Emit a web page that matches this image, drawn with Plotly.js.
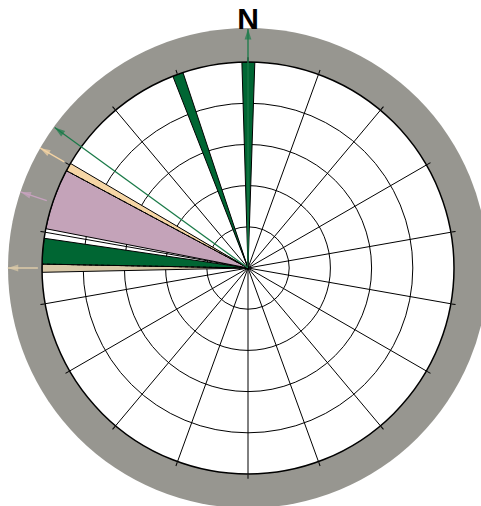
<!DOCTYPE html>
<html>
<head>
<meta charset="utf-8">
<script src="https://cdn.plot.ly/plotly-3.0.1.min.js"></script>
<style>html,body{margin:0;padding:0;background:#fff;}#chart{width:481px;height:506px;}</style>
</head>
<body>
<div id="chart"></div>
<script>
// Rose-diagram sectors (compass degrees, clockwise from N)
const greenTheta = [0.1, 340.1, 274.7];
const greenWidth = [3.6, 3.0, 7.2];
const greenR = [5, 5, 5];

const pinkTheta = [289.6];
const pinkWidth = [17.2];
const pinkR = [5];

const peachTheta = [299.35];
const peachWidth = [2.3];
const peachR = [5];

const tanTheta = [269.95];
const tanWidth = [2.3];
const tanR = [5];

// Mean-direction arrows
const arrowTheta = [0, 306, 300, 288.5, 270];
const arrowStart = [0, 0, 5.15, 5.15, 5.1];
const arrowEnd = [5.8, 5.8, 5.83, 5.82, 5.83];
const arrowColor = ['#1a7a48', '#1a7a48', '#f3d3a3', '#c7a2bf', '#dccaa8'];

const northLabel = 'N';

const C_GREEN = '#006633';
const C_PINK = '#c4a3b9';
const C_PEACH = '#f6d6a6';
const C_TAN = '#d8c8a8';
const C_RING = '#979690';

// geometry (pixels)
const W = 481, H = 506, CX = 248, CY = 268;
const R_MAX = 5;
const PX_INNER = 206, PX_RING = 240, PX_ARROW = 245;
const SECTOR = [85, 185];

function bars(theta, width, r, color) {
  return {
    type: 'barpolar', subplot: 'polar', theta: theta, width: width, r: r, base: 0,
    marker: {color: color, line: {color: '#000', width: 1}},
    hoverinfo: 'skip', showlegend: false
  };
}

const traces = [
  bars(tanTheta, tanWidth, tanR, C_TAN),
  bars(greenTheta, greenWidth, greenR, C_GREEN),
  bars(pinkTheta, pinkWidth, pinkR, C_PINK),
  bars(peachTheta, peachWidth, peachR, C_PEACH)
];

// dotted boundary lines between tan/green and pink/peach
const dottedEdges = [tanTheta[0] + tanWidth[0] / 2, peachTheta[0] - peachWidth[0] / 2];
dottedEdges.forEach(function (t) {
  traces.push({
    type: 'scatterpolar', subplot: 'polar', mode: 'lines', r: [0, R_MAX], theta: [t, t],
    line: {color: '#000', width: 1, dash: 'dot'}, hoverinfo: 'skip', showlegend: false
  });
});

arrowTheta.forEach(function (t, i) {
  traces.push({
    type: 'scatterpolar', subplot: 'polar2', mode: 'lines+markers', cliponaxis: false,
    r: [arrowStart[i], arrowEnd[i]], theta: [t, t],
    line: {color: arrowColor[i], width: 1.3},
    marker: {symbol: 'arrow', size: [0, 11], angle: [t, t], color: arrowColor[i], line: {width: 0}},
    hoverinfo: 'skip', showlegend: false
  });
});

// domains (paper fractions, zero margins)
const polarDomain = {
  x: [(CX - PX_INNER) / W, (CX + PX_INNER) / W],
  y: [(H - CY - PX_INNER) / H, (H - CY + PX_INNER) / H]
};
const rad = Math.PI / 180;
const xs = [Math.cos(SECTOR[0] * rad), Math.cos(SECTOR[1] * rad), -1];
const ys = [Math.sin(SECTOR[0] * rad), Math.sin(SECTOR[1] * rad), 1];
const bx0 = Math.min.apply(null, xs), bx1 = Math.max.apply(null, xs);
const by0 = Math.min.apply(null, ys), by1 = Math.max.apply(null, ys);
const polar2Domain = {
  x: [(CX + bx0 * PX_ARROW) / W, (CX + bx1 * PX_ARROW) / W],
  y: [(H - CY + by0 * PX_ARROW) / H, (H - CY + by1 * PX_ARROW) / H]
};

const layout = {
  width: W, height: H,
  margin: {l: 0, r: 0, t: 0, b: 0},
  paper_bgcolor: '#ffffff',
  showlegend: false,
  title: {
    text: '<b>' + northLabel + '</b>',
    x: CX / W, xanchor: 'center', xref: 'container',
    y: 1 - 18 / H, yanchor: 'middle', yref: 'container',
    font: {family: 'Liberation Sans, Arial, sans-serif', size: 30, color: '#000'}
  },
  shapes: [{
    type: 'circle', layer: 'below', xref: 'paper', yref: 'paper',
    x0: (CX - PX_RING) / W, x1: (CX + PX_RING) / W,
    y0: (H - CY - PX_RING) / H, y1: (H - CY + PX_RING) / H,
    fillcolor: C_RING, line: {width: 0}
  }],
  polar: {
    domain: polarDomain,
    bgcolor: '#ffffff',
    bargap: 0,
    radialaxis: {
      range: [0, R_MAX], dtick: 1, showticklabels: false, ticks: '',
      showline: false, gridcolor: '#000', gridwidth: 1, layer: 'below traces'
    },
    angularaxis: {
      rotation: 90, direction: 'clockwise', dtick: 20,
      showticklabels: false, ticks: 'outside', ticklen: 4, tickwidth: 1, tickcolor: '#000',
      showline: true, linecolor: '#000', linewidth: 1.5,
      gridcolor: '#000', gridwidth: 1, layer: 'above traces'
    }
  },
  polar2: {
    domain: polar2Domain,
    sector: SECTOR,
    bgcolor: 'rgba(0,0,0,0)',
    radialaxis: {range: [0, R_MAX * PX_ARROW / PX_INNER], visible: false, showgrid: false},
    angularaxis: {rotation: 90, direction: 'clockwise', visible: false, showgrid: false}
  }
};

Plotly.newPlot('chart', traces, layout, {displayModeBar: false, staticPlot: true});
</script>
</body>
</html>
